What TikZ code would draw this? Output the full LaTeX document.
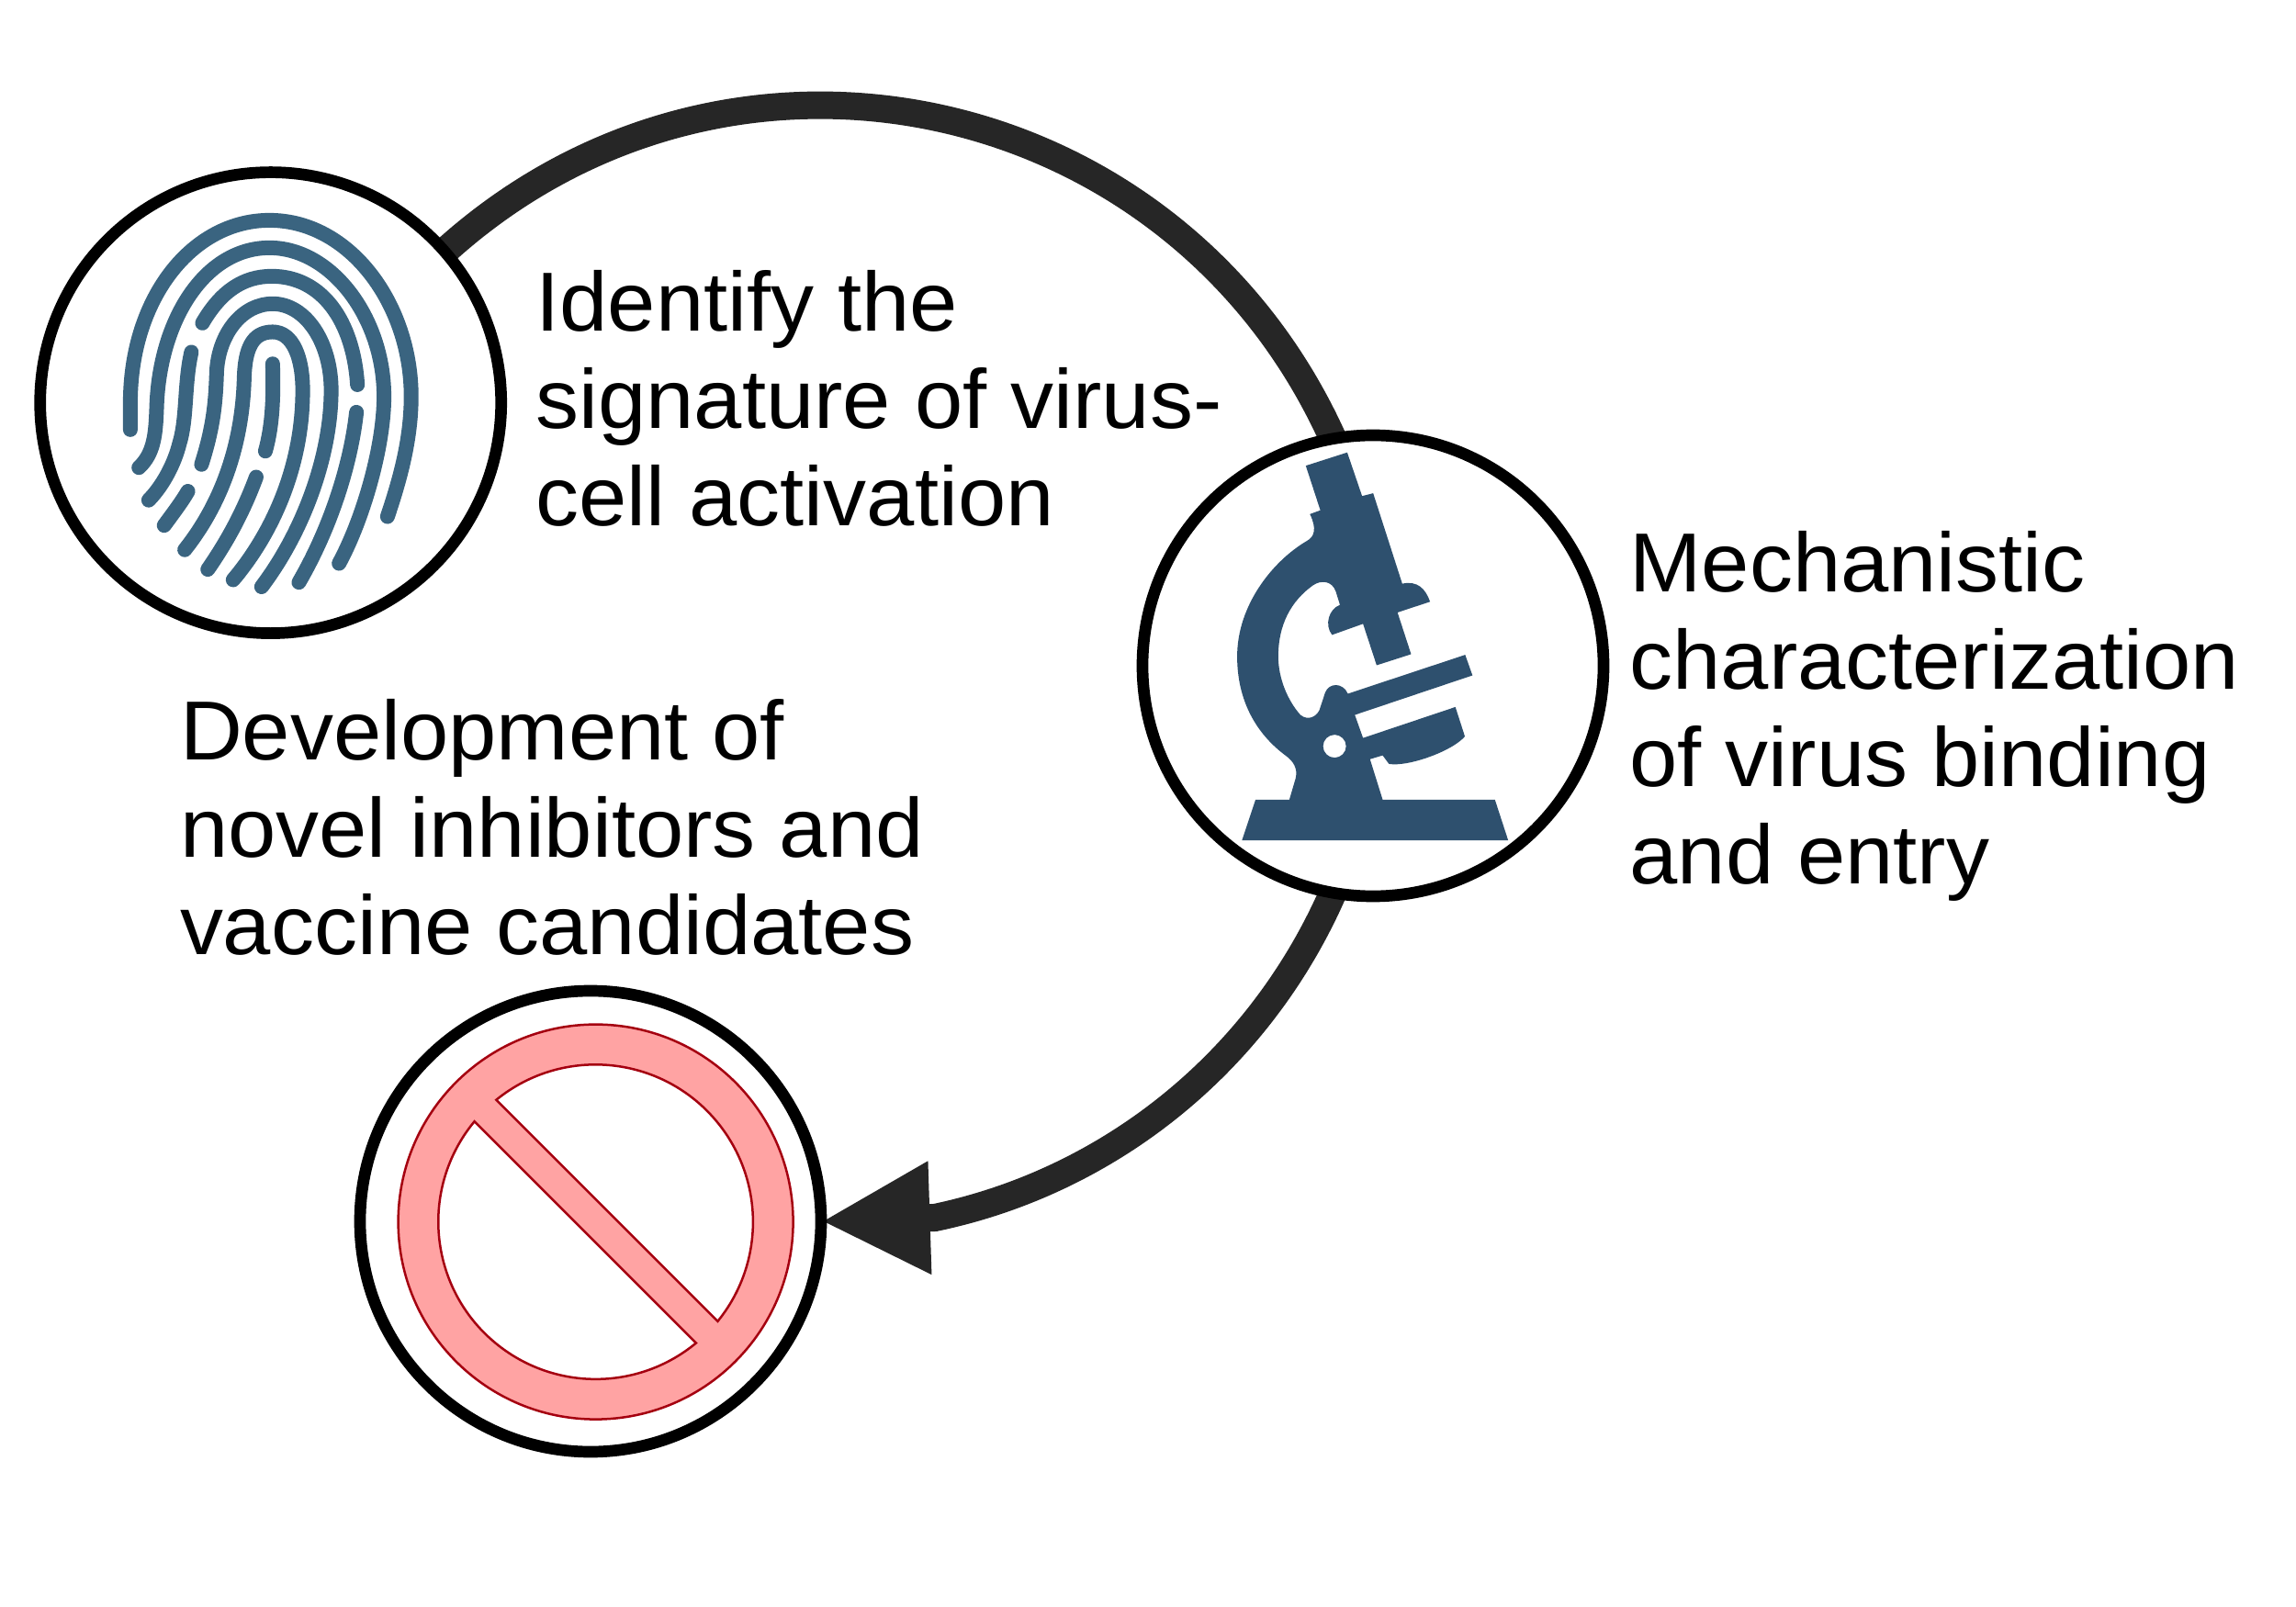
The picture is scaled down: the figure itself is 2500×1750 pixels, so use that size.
\documentclass[tikz,border=0pt]{standalone}
\usepackage{fontspec}
\setmainfont[FakeStretch=1.03]{Liberation Sans}
\usetikzlibrary{arrows.meta,backgrounds}
\definecolor{ring}{HTML}{262626}
\definecolor{fpblue}{HTML}{3A6480}
\definecolor{micblue}{HTML}{2E506E}
\definecolor{signfill}{HTML}{FFA3A3}
\definecolor{signline}{HTML}{A50010}
\tikzset{
  iconcircle/.style={circle,draw=black,fill=white,line width=5.08pt,minimum size=200.8pt,inner sep=0pt,outer sep=0pt},
  caption/.style={anchor=north west,align=left,inner sep=0pt,outer sep=0pt,font=\fontsize{36.5}{42.4}\selectfont,text=black},
  bigarc/.style={draw=ring,line width=12pt},
  fpline/.style={draw=fpblue,line width=6.4pt,line cap=round,line join=round},
  iconscale/.style={x=0.13774pt,y=-0.13774pt}
}
\begin{document}
\begin{tikzpicture}[x=0.4pt,y=-0.4pt]
\useasboundingbox (0,0) rectangle (2500,1750);
\node[iconcircle] (fp) at (294.7,438.6) {};
\node[iconcircle] (mic) at (1495,725) {};
\node[iconcircle] (sgn) at (643,1330) {};
\coordinate (headbase) at (1018,1326);
\begin{scope}[on background layer]
\fill[white] (0,0) rectangle (2500,1750);
\draw[bigarc] (fp.41.5) .. controls (794.5,-7.3) and (1280.2,98) .. (mic.100);
\draw[bigarc,-{Triangle[length=47.4pt,width=45.8pt,color=ring]}] (mic.-100) .. controls (1371,1155.5) and (1209,1286) .. (headbase) -- (sgn.-0.8);
\end{scope}
% captions
\node[caption] (t1) at (583.5,294) {Identify the\\signature of virus-\\cell activation};
\node[caption] (t2) at (1774.5,578) {Mechanistic\\characterization\\of virus binding\\and entry};
\node[caption] (t3) at (196,761) {Development of\\novel inhibitors and\\vaccine candidates};
% fingerprint
\begin{scope}[shift={(30,170)},iconscale]
\draw[fpline] (325,865) -- (325,780) .. controls (325,450) and (520,203) .. (765,203) .. controls (1020,203) and (1213,470) .. (1213,760) .. controls (1213,900) and (1175,1030) .. (1138,1140);
\draw[fpline] (352,985) .. controls (400,940) and (405,880) .. (408,800) .. controls (415,520) and (560,290) .. (765,290) .. controls (960,290) and (1127,510) .. (1127,760) .. controls (1127,920) and (1060,1150) .. (985,1288);
\draw[fpline] (553,528) .. controls (610,430) and (680,380) .. (772,380) .. controls (930,380) and (1030,520) .. (1043,723);
\draw[fpline] (518,620) .. controls (495,720) and (505,830) .. (480,910) .. controls (465,970) and (430,1040) .. (383,1088);
\draw[fpline] (550,975) .. controls (590,850) and (595,770) .. (598,680) .. controls (605,560) and (680,467) .. (775,467) .. controls (880,467) and (960,590) .. (960,740) .. controls (960,950) and (870,1190) .. (740,1362);
\draw[fpline] (497,1245) .. controls (620,1090) and (680,900) .. (685,700) .. controls (688,610) and (710,556) .. (775,556) .. controls (840,556) and (870,640) .. (870,740) .. controls (870,1000) and (760,1210) .. (650,1340);
\draw[fpline] (775,657) .. controls (778,760) and (775,850) .. (752,933);
\draw[fpline] (507,1060) .. controls (490,1090) and (460,1130) .. (432,1168);
\draw[fpline] (723,1015) .. controls (680,1130) and (630,1220) .. (570,1307);
\draw[fpline] (1040,810) .. controls (1020,990) and (950,1190) .. (858,1348);
\end{scope}
% microscope
\begin{scope}[shift={(1230,460)},iconscale]
\fill[micblue,even odd rule]
 (355,1322) -- (398,1193) -- (505,1193) -- (525,1125)
 .. controls (532,1095) and (518,1072) .. (495,1055)
 .. controls (400,985) and (340,880) .. (340,740)
 .. controls (340,580) and (450,440) .. (560,375)
 .. controls (585,362) and (592,335) .. (570,290)
 -- (603,278) -- (557,137) -- (688,95) -- (735,233) -- (770,224) -- (862,510)
 .. controls (910,500) and (935,525) .. (950,567)
 -- (847,601) -- (890,733) -- (781,768) -- (738,637) -- (640,672)
 .. controls (615,640) and (630,590) .. (665,577)
 -- (652,535) .. controls (640,500) and (605,498) .. (580,515)
 .. controls (510,565) and (470,640) .. (470,740)
 .. controls (470,810) and (500,880) .. (540,925)
 .. controls (565,945) and (590,930) .. (600,910)
 -- (618,855) .. controls (630,822) and (675,822) .. (690,858)
 -- (1061,735) -- (1084,800) -- (712,925) -- (738,998) -- (1030,900) -- (1060,993)
 .. controls (1020,1040) and (880,1090) .. (820,1080)
 -- (800,1053) -- (760,1065) -- (800,1193) -- (1155,1193) -- (1197,1322) -- cycle
 (648,1024) circle[radius=5pt];
\end{scope}
% prohibition sign
\filldraw[fill=signfill,draw=signline,line width=1pt,even odd rule]
 (648.6,1330.6) circle[radius=86pt]
 (540.4,1197.7) arc[start angle=129.1,end angle=-39.1,radius=68.56pt] -- cycle
 (516.6,1221.2) arc[start angle=140.4,end angle=309.6,radius=68.56pt] -- cycle;
\end{tikzpicture}
\end{document}
